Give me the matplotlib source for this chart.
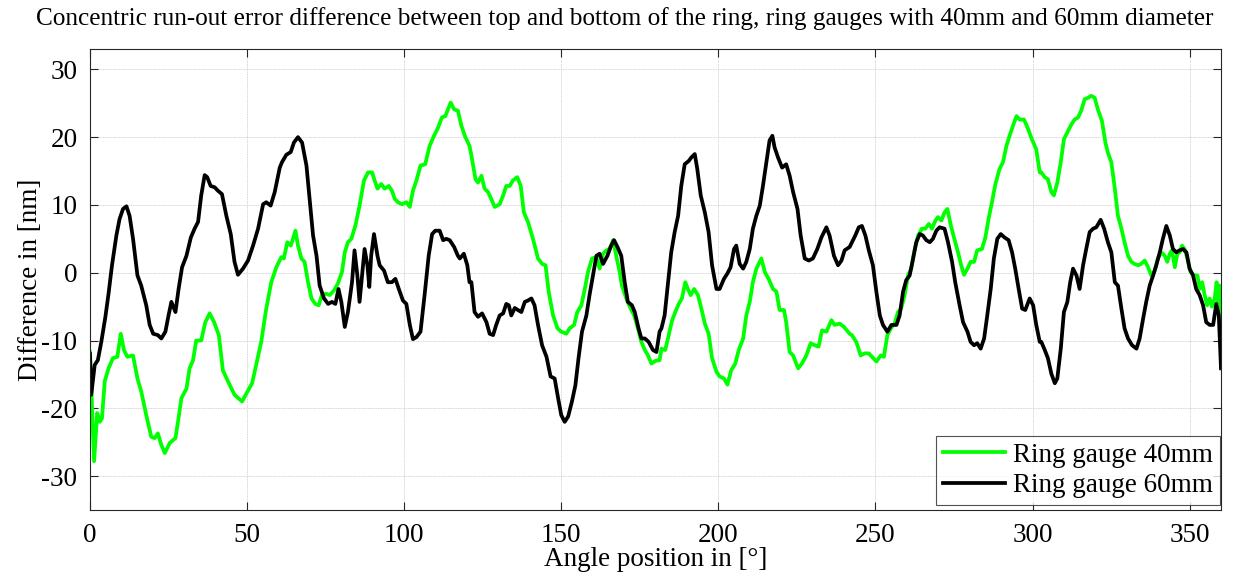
import numpy as np
import matplotlib.pyplot as plt

# values
angle_40 = [0.0, 1.3, 2.3, 3.1, 3.8, 4.7, 5.9, 7.3, 8.7, 9.8, 10.8, 11.9, 13.7, 15.1, 16.3, 17.9, 19.5, 20.6, 21.6, 22.7,
            23.8, 25.4, 27.2, 28.0, 29.1, 30.7, 31.7, 32.8, 33.8, 35.4, 36.7, 38.1, 39.5, 41.0, 42.3, 43.9, 46.0, 48.4, 49.8, 51.6,
            52.9, 54.5, 56.1, 57.7, 59.3, 60.9, 61.7, 62.8, 63.9, 64.6, 65.4, 66.2, 67.3, 68.3, 69.4, 70.5, 71.7, 72.8, 73.8, 75.2,
            76.3, 77.7, 78.9, 80.2, 81.1, 82.1, 83.2, 84.5, 85.8, 87.2, 88.5, 89.8, 90.6, 91.5, 92.7, 93.8, 95.1, 96.1, 97.0, 98.0,
            99.3, 100.7, 101.8, 102.8, 103.9, 105.2, 106.7, 108.1, 109.5, 110.8, 112.0, 113.1, 114.2, 114.8, 115.9, 117.1, 118.2, 119.3, 120.8, 121.4,
            122.7, 123.5, 124.6, 125.6, 126.7, 127.7, 128.8, 130.4, 131.5, 132.5, 133.6, 134.6, 136.0, 137.1, 138.1, 139.4, 141.0, 142.6, 143.9, 145.0,
            146.0, 147.4, 148.8, 150.0, 151.6, 152.7, 154.1, 155.1, 156.4, 157.5, 158.5, 159.8, 161.2, 162.2, 163.3, 164.4, 165.4, 166.5, 167.5, 168.6,
            169.3, 170.7, 171.8, 173.2, 174.4, 175.5, 176.6, 177.6, 178.7, 180.0, 181.3, 181.9, 183.1, 184.2, 185.3, 186.3, 187.4, 188.4, 189.5, 190.3,
            191.2, 192.3, 193.5, 194.6, 195.7, 196.9, 198.0, 199.4, 200.4, 201.8, 202.9, 204.1, 205.4, 206.5, 207.9, 208.9, 210.0, 211.0, 212.1, 213.7,
            214.8, 216.0, 217.4, 218.5, 219.5, 220.9, 221.6, 222.7, 223.8, 225.4, 226.6, 228.0, 229.4, 230.7, 231.9, 233.0, 234.4, 236.0, 237.0, 238.6,
            240.0, 241.8, 242.5, 243.9, 245.3, 246.6, 247.9, 248.9, 250.3, 251.7, 252.7, 253.8, 254.9, 256.1, 257.2, 258.2, 259.3, 260.4, 261.4, 262.3,
            263.6, 264.8, 265.9, 267.0, 268.0, 269.1, 269.9, 271.0, 272.0, 272.9, 274.0, 275.0, 276.3, 277.3, 278.2, 279.3, 280.3, 281.4, 282.4, 283.9,
            285.0, 286.0, 287.1, 288.2, 289.5, 290.6, 291.7, 292.7, 293.8, 294.9, 295.9, 297.3, 298.6, 299.8, 301.2, 302.3, 302.8, 303.9, 304.9, 306.0,
            306.8, 307.9, 309.0, 310.0, 311.3, 312.4, 313.4, 314.5, 315.5, 316.6, 317.7, 318.7, 319.8, 320.8, 322.1, 323.2, 324.0, 325.1, 326.2, 327.2,
            328.3, 329.3, 330.4, 331.5, 332.5, 333.6, 334.6, 335.7, 336.8, 337.8, 338.9, 339.9, 341.0, 342.1, 342.9, 343.7, 344.4, 345.3, 346.1, 346.8,
            347.6, 348.4, 349.3, 350.3, 351.4, 352.5, 353.2, 354.0, 354.8, 355.6, 356.4, 357.1, 358.0, 358.6, 359.0, 359.5, 360.0]
diff_40 = [-11.7, -27.8, -20.7, -22.0, -21.5, -16.0, -14.1, -12.6, -12.4, -9.0, -11.4, -12.4, -12.2, -15.6, -17.5, -21.0, -24.2, -24.4, -23.7, -25.4,
           -26.6, -25.1, -24.4, -22.0, -18.5, -17.1, -14.1, -12.9, -10.0, -10.0, -7.3, -6.0, -7.3, -9.2, -14.4, -16.0, -18.0, -19.0, -17.8, -16.3,
           -13.6, -10.2, -5.3, -1.4, 0.8, 2.3, 2.1, 4.5, 4.0, 5.0, 6.2, 4.0, 2.1, 1.6, -1.4, -3.8, -4.6, -4.8, -3.3, -3.1,
           -3.3, -2.6, -1.6, 0.1, 3.0, 4.5, 5.0, 7.0, 9.9, 13.6, 14.8, 14.8, 13.6, 12.4, 13.1, 12.4, 12.8, 12.1, 10.9, 10.4,
           10.1, 10.4, 9.7, 12.1, 13.6, 15.8, 16.0, 18.7, 20.2, 21.4, 22.9, 23.1, 24.4, 25.1, 24.1, 23.9, 21.7, 20.2, 18.7, 17.3,
           13.8, 13.3, 14.3, 12.4, 11.9, 10.9, 9.7, 10.1, 11.4, 12.8, 12.8, 13.6, 14.1, 12.8, 8.9, 7.5, 5.0, 2.1, 1.3, 1.1,
           -2.8, -6.3, -8.2, -8.7, -9.0, -8.2, -7.7, -5.8, -4.8, -2.4, 0.1, 2.1, 2.3, 0.6, 2.8, 3.3, 3.5, 4.8, 2.5, 0.1,
           -1.9, -3.8, -5.0, -6.3, -8.2, -10.2, -11.4, -12.2, -13.4, -13.0, -12.9, -11.2, -11.4, -9.2, -7.0, -5.8, -4.6, -3.8, -1.4, -2.4,
           -3.3, -2.4, -3.3, -5.3, -7.5, -9.0, -12.6, -14.6, -15.3, -15.6, -16.5, -14.4, -13.4, -11.4, -9.7, -6.3, -4.3, -1.4, 0.6, 2.1,
           0.1, -0.9, -2.4, -2.8, -5.5, -5.5, -7.3, -11.7, -12.2, -14.1, -13.4, -12.2, -10.4, -10.7, -10.9, -8.5, -8.7, -7.0, -7.7, -7.5,
           -8.0, -9.0, -9.2, -10.2, -12.2, -11.9, -11.9, -12.4, -13.1, -12.2, -12.4, -9.2, -8.2, -7.5, -5.8, -5.3, -3.3, -0.4, 0.6, 3.0,
           5.5, 6.5, 6.5, 7.2, 6.5, 7.7, 8.2, 7.7, 8.9, 9.4, 7.0, 5.2, 3.0, 1.1, -0.3, 0.6, 1.6, 1.6, 3.3, 3.5,
           5.2, 7.9, 10.4, 13.1, 15.3, 16.3, 18.7, 20.2, 21.7, 23.1, 22.6, 22.6, 21.2, 19.7, 18.2, 14.8, 14.8, 14.1, 13.8, 11.9,
           11.4, 13.3, 16.3, 19.7, 20.9, 21.9, 22.6, 22.9, 23.9, 25.6, 25.8, 26.1, 25.8, 24.1, 22.4, 19.2, 17.7, 16.3, 12.4, 8.4,
           6.5, 4.5, 2.5, 1.6, 1.3, 1.1, 1.3, 1.8, 0.8, -0.4, 0.3, 2.1, 3.0, 2.5, 1.6, 2.8, 3.3, 0.8, 2.8, 3.0,
           4.0, 3.5, 2.1, 0.1, -0.4, -0.4, -2.4, -1.4, -3.3, -4.8, -3.8, -5.0, -3.8, -1.4, -4.3, -1.9, -7.3]

angle_60 = [0.0, 0.4, 1.5, 2.5, 3.6, 4.9, 5.9, 7.0, 8.4, 9.4, 10.5, 11.6, 12.6, 13.7, 15.1, 16.3, 17.9, 19.0, 20.1, 21.6,
            22.7, 24.0, 25.0, 25.9, 27.2, 28.2, 29.3, 30.7, 32.1, 33.3, 34.4, 35.4, 36.5, 37.3, 38.4, 39.7, 40.7, 42.0, 43.4, 44.8,
            46.0, 47.1, 48.7, 50.3, 51.9, 53.5, 55.1, 56.1, 57.5, 58.8, 60.4, 61.1, 62.5, 63.9, 64.9, 66.2, 67.5, 68.9, 69.9, 71.0,
            72.1, 73.1, 74.5, 75.8, 77.0, 78.1, 79.1, 80.0, 81.1, 82.1, 83.4, 84.2, 85.1, 85.8, 86.6, 87.4, 88.3, 88.9, 89.5, 90.4,
            91.5, 92.2, 93.6, 94.8, 96.1, 97.2, 98.3, 99.6, 100.7, 101.8, 102.8, 103.9, 105.2, 106.5, 107.8, 108.9, 109.9, 111.3, 112.4, 113.4,
            114.5, 115.9, 117.1, 117.7, 119.0, 120.1, 120.8, 121.4, 122.4, 123.5, 124.8, 126.2, 127.2, 128.3, 129.3, 130.4, 131.5, 132.5, 133.3, 134.1,
            135.2, 136.2, 137.3, 138.4, 139.4, 140.5, 141.5, 142.6, 143.9, 145.3, 146.6, 147.9, 149.0, 150.0, 151.1, 152.2, 153.4, 154.5, 155.5, 156.6,
            158.0, 159.0, 160.1, 161.2, 162.2, 163.3, 164.7, 165.7, 166.8, 167.9, 169.1, 170.2, 171.2, 172.5, 173.4, 174.6, 175.5, 176.6, 177.8, 179.2,
            180.3, 181.3, 181.9, 182.9, 184.0, 185.0, 186.1, 187.2, 188.2, 189.3, 190.6, 191.4, 192.5, 193.3, 194.4, 195.7, 196.9, 198.0, 199.4, 200.4,
            201.8, 202.9, 203.9, 205.0, 205.7, 206.8, 207.9, 208.9, 210.0, 211.0, 212.1, 213.2, 214.2, 215.3, 216.3, 217.2, 217.9, 219.0, 220.3, 221.6,
            222.7, 223.8, 225.2, 226.2, 227.5, 228.8, 230.1, 231.5, 232.8, 234.4, 235.4, 236.8, 238.1, 239.2, 240.2, 241.8, 243.6, 244.7, 245.7, 246.8,
            247.9, 249.2, 250.3, 251.4, 252.4, 253.8, 255.1, 256.7, 257.7, 258.8, 259.8, 260.9, 262.0, 263.0, 264.1, 265.1, 266.2, 267.3, 268.3, 269.4,
            270.4, 272.0, 273.1, 274.4, 275.4, 276.8, 277.9, 279.3, 280.3, 281.4, 282.4, 283.5, 284.6, 285.6, 286.7, 287.7, 288.8, 289.9, 291.1, 292.4,
            293.5, 294.5, 295.6, 296.7, 297.7, 299.1, 300.2, 301.2, 302.3, 302.8, 303.9, 304.9, 306.0, 307.1, 307.9, 309.0, 310.0, 311.1, 312.0, 312.9,
            314.0, 315.0, 316.1, 317.1, 318.2, 319.3, 320.3, 321.7, 322.8, 324.0, 325.1, 326.2, 327.2, 328.3, 329.3, 330.4, 331.7, 333.1, 334.1, 335.2,
            336.2, 337.3, 338.4, 339.4, 340.5, 341.5, 342.6, 343.7, 344.7, 345.8, 346.8, 347.9, 349.0, 350.0, 351.1, 352.1, 353.2, 354.3, 355.3, 356.4,
            357.5, 358.5, 359.3, 360.0]
diff_60 = [-12.0, -18.0, -13.6, -12.9, -10.2, -6.5, -3.1, 1.1, 5.5, 7.9, 9.4, 9.8, 8.4, 5.0, -0.4, -1.9, -4.8, -7.7, -9.0, -9.2,
           -9.7, -8.7, -6.3, -4.3, -5.8, -2.4, 0.8, 2.5, 5.2, 6.5, 7.5, 11.4, 14.4, 14.1, 12.8, 12.6, 12.1, 11.6, 8.4, 5.7,
           1.6, -0.3, 0.6, 1.8, 4.0, 6.5, 10.1, 10.4, 9.9, 11.9, 15.5, 16.3, 17.4, 17.8, 19.2, 20.0, 19.2, 15.8, 10.9, 5.5,
           2.5, -1.9, -3.8, -4.6, -4.3, -4.6, -2.4, -4.3, -8.0, -5.8, -1.4, 3.3, -0.4, -4.3, -0.4, 3.5, 1.1, -2.1, 2.5, 5.7,
           2.5, 1.1, 0.3, -1.4, -1.4, -0.9, -2.4, -4.1, -4.6, -7.7, -9.8, -9.5, -8.7, -3.3, 2.5, 5.7, 6.2, 6.2, 4.8, 5.0,
           4.8, 3.8, 2.5, 2.1, 2.8, 1.1, -1.4, -1.4, -5.8, -6.5, -6.0, -7.3, -9.0, -9.2, -7.7, -6.3, -6.0, -4.6, -4.8, -6.3,
           -5.2, -5.5, -5.8, -4.3, -4.1, -3.8, -4.8, -7.7, -10.7, -12.4, -15.3, -15.6, -18.5, -21.0, -22.0, -21.2, -19.0, -16.6, -12.6, -8.7,
           -6.3, -3.3, -0.4, 2.5, 2.8, 1.3, 2.5, 3.8, 4.8, 3.8, 2.5, -1.4, -4.3, -4.8, -5.8, -8.2, -9.7, -9.7, -10.2, -11.4,
           -11.7, -8.7, -8.2, -6.3, -1.4, 3.0, 6.0, 8.4, 12.8, 16.0, 16.5, 17.0, 17.5, 15.3, 11.4, 8.9, 6.0, 1.1, -2.4, -2.4,
           -0.9, -0.1, 0.8, 3.5, 4.0, 1.3, 0.6, 1.6, 3.5, 6.5, 8.4, 9.9, 12.8, 16.3, 19.5, 20.2, 18.5, 17.0, 15.5, 16.0,
           14.3, 11.9, 9.4, 5.5, 2.1, 1.8, 2.1, 3.5, 5.2, 6.7, 5.5, 2.5, 1.1, 1.8, 3.3, 3.8, 5.5, 6.7, 6.9, 5.5,
           3.3, 1.1, -2.8, -6.3, -7.7, -8.7, -7.7, -7.7, -6.3, -2.8, -1.1, -0.4, 2.1, 4.5, 5.7, 5.5, 4.8, 4.5, 5.0, 6.2,
           6.7, 6.5, 4.5, 1.6, -1.4, -4.8, -7.3, -8.7, -10.2, -10.7, -10.4, -11.2, -9.7, -6.3, -2.4, 2.1, 5.0, 5.7, 5.2, 4.8,
           3.0, 0.6, -2.4, -5.3, -5.5, -3.8, -4.8, -7.7, -10.2, -10.2, -11.4, -12.6, -14.9, -16.3, -15.6, -11.2, -5.8, -4.3, -1.4, 0.6,
           -0.4, -2.4, 1.1, 3.5, 6.0, 6.5, 6.7, 7.8, 6.5, 4.5, 3.0, -1.4, -1.9, -5.3, -8.2, -9.7, -10.7, -11.2, -9.7, -6.8,
           -4.3, -1.9, -0.4, 1.1, 3.0, 5.0, 6.9, 5.5, 3.5, 3.0, 3.3, 3.5, 3.0, 0.6, -0.4, -2.4, -3.3, -4.8, -7.3, -7.7,
           -7.7, -4.6, -6.3, -14.1]

series_names = ["Ring gauge 40mm", "Ring gauge 60mm"]
title_text = "Concentric run-out error difference between top and bottom of the ring, ring gauges with 40mm and 60mm diameter"

plt.rcParams['font.family'] = ['Liberation Serif', 'DejaVu Serif']
plt.rcParams['axes.unicode_minus'] = False

fig = plt.figure(figsize=(12.33, 5.75), dpi=100)
ax = fig.add_axes([90 / 1233, 65 / 575, 1131 / 1233, 461 / 575])

ax.plot(angle_40, diff_40, color='#00ff00', lw=2.7, label=series_names[0])
ax.plot(angle_60, diff_60, color='black', lw=2.7, label=series_names[1])

ax.set_xlim(0, 360)
ax.set_ylim(-35, 33)
ax.set_xticks(np.arange(0, 351, 50))
ax.set_yticks(np.arange(-30, 31, 10))
ax.tick_params(direction='in', top=True, right=True, labelsize=19.5, length=6, width=0.8, color='#262626', pad=9)
ax.grid(True, color='#d4d4d4', lw=0.6, ls=(0, (2, 1)))
for s in ax.spines.values():
    s.set_color('#262626')
    s.set_linewidth(0.8)

ax.set_xlabel("Angle position in [°]", fontsize=19.5, labelpad=0)
ax.set_ylabel("Difference in [nm]", fontsize=19.5, labelpad=-1)
# title kept whole, sized so it just fits the figure width
fig.text(36 / 1233, 1 - 19 / 575, title_text, fontsize=18.2, ha='left', va='center')

leg = ax.legend(loc='lower right', bbox_to_anchor=(1220 / 1233, 1 - 505 / 575), bbox_transform=fig.transFigure,
                fontsize=19.5, fancybox=False, edgecolor='#262626', handlelength=2.3, borderaxespad=0,
                labelspacing=0.2, borderpad=0.25, handletextpad=0.3)
leg.get_frame().set_linewidth(0.8)

fig.savefig("out.png", dpi=100)
